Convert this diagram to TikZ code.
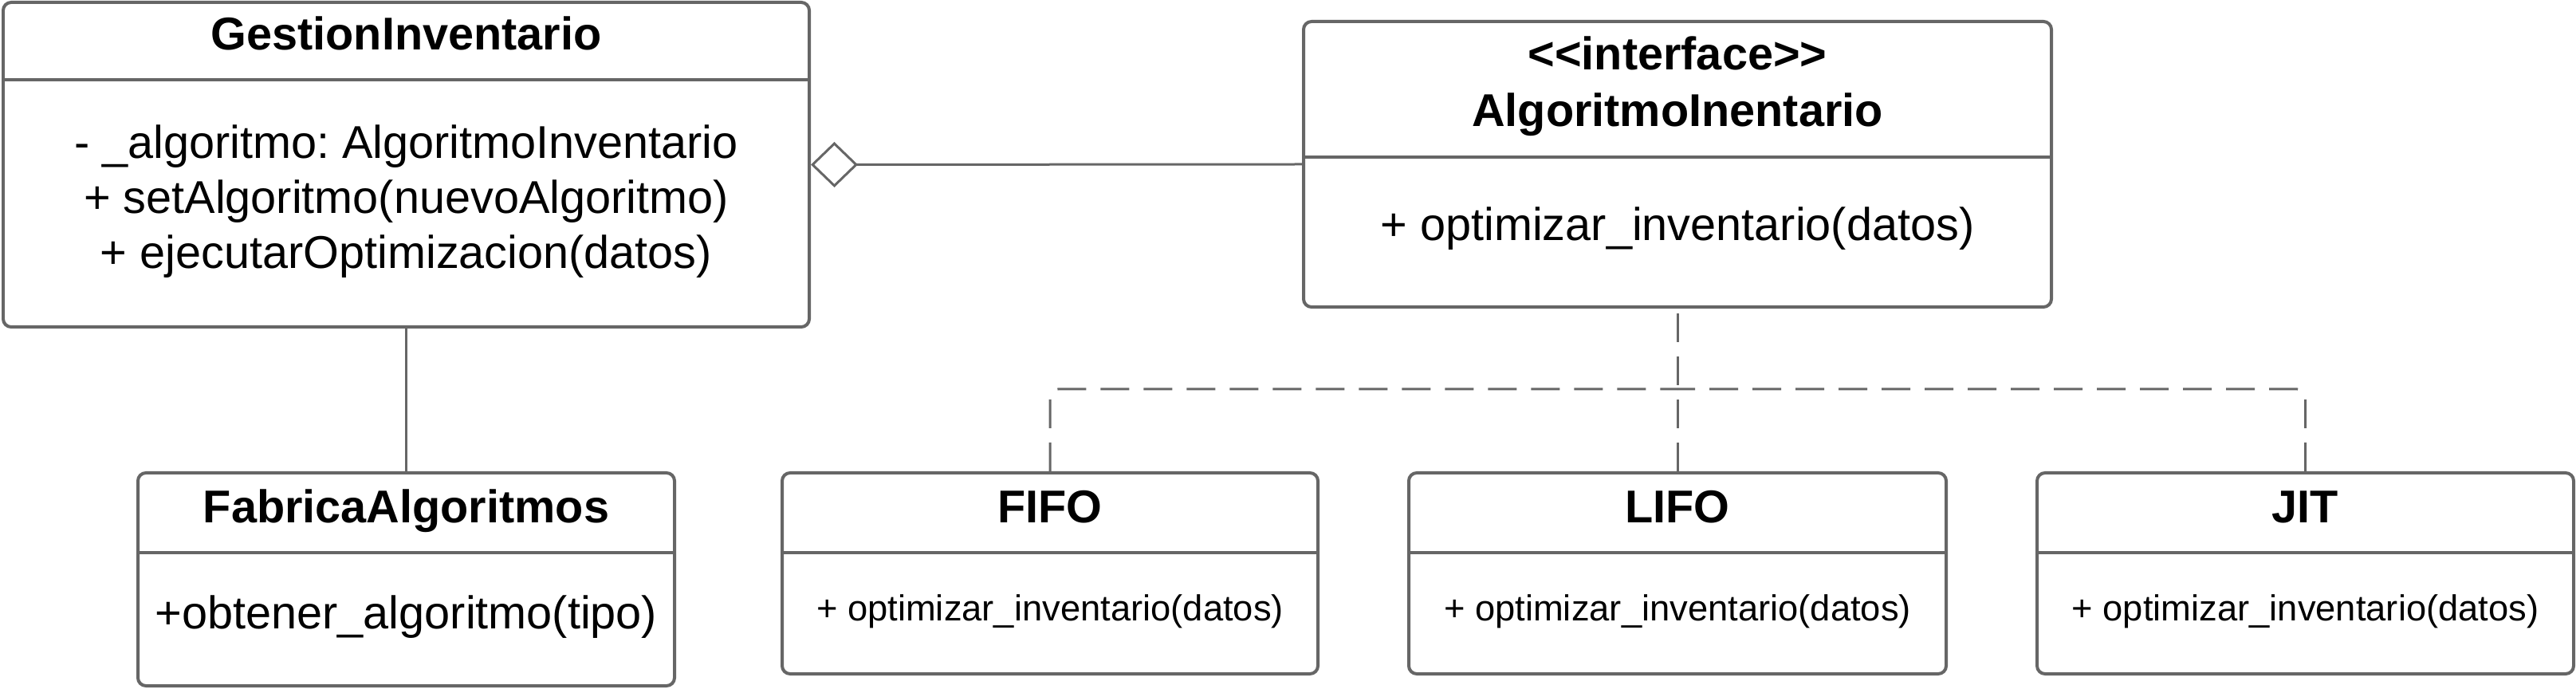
\documentclass[tikz,border=0pt]{standalone}
\usepackage{fontspec}
\setmainfont{Liberation Sans}
\usetikzlibrary{arrows.meta}
\definecolor{borde}{HTML}{666666}
\frenchspacing

\begin{document}
\begin{tikzpicture}[auto,
    clase/.style ={rectangle, draw=borde, line width=0.04cm, rounded corners=0.1cm, fill=white},
    separador/.style ={draw=borde, line width=0.04cm},
    titulo/.style ={anchor=base, font=\fontsize{16.4}{19.7}\selectfont\bfseries},
    miembro/.style ={anchor=base, font=\fontsize{16.4}{19.7}\selectfont},
    metodo/.style ={anchor=base, font=\fontsize{12.9}{15.5}\selectfont},
    asociacion/.style ={draw=borde, line width=0.03cm},
    realiza/.style ={draw=borde, line width=0.03cm, dash pattern=on 0.36cm off 0.18cm, rounded corners=0.1cm},
    agregacion/.style ={draw=borde, line width=0.03cm, -{Diamond[open, length=0.59cm, width=0.57cm]}}]
   \useasboundingbox (0,0) rectangle (32.31,-8.64);

   % clases
   \node[clase, minimum width=10.11cm, minimum height=4.07cm] (GI) at (5.095,-2.065) {};
   \node[clase, minimum width=9.38cm, minimum height=3.58cm] (AI) at (21.04,-2.06) {};
   \node[clase, minimum width=6.73cm, minimum height=2.67cm] (FA) at (5.095,-7.265) {};
   \node[clase, minimum width=6.72cm, minimum height=2.52cm] (FIFO) at (13.17,-7.19) {};
   \node[clase, minimum width=6.74cm, minimum height=2.52cm] (LIFO) at (21.04,-7.19) {};
   \node[clase, minimum width=6.73cm, minimum height=2.52cm] (JIT) at (28.915,-7.19) {};

   \draw[separador] (GI.west |- 0,-1.00) -- (GI.east |- 0,-1.00);
   \draw[separador] (AI.west |- 0,-1.97) -- (AI.east |- 0,-1.97);
   \draw[separador] (FA.west |- 0,-6.93) -- (FA.east |- 0,-6.93);
   \draw[separador] (FIFO.west |- 0,-6.93) -- (FIFO.east |- 0,-6.93);
   \draw[separador] (LIFO.west |- 0,-6.93) -- (LIFO.east |- 0,-6.93);
   \draw[separador] (JIT.west |- 0,-6.93) -- (JIT.east |- 0,-6.93);

   % textos
   \node[titulo] (GIt) at (5.095,-0.63) {GestionInventario};
   \node[miembro] (GIa) at (5.095,-1.99) {- \_algoritmo: AlgoritmoInventario};
   \node[miembro] (GIb) at (5.095,-2.68) {+ setAlgoritmo(nuevoAlgoritmo)};
   \node[miembro] (GIc) at (5.095,-3.37) {+ ejecutarOptimizacion(datos)};

   \node[titulo] (AIs) at (21.04,-0.88) {<\kern0pt<interface>\kern0pt>};
   \node[titulo] (AIt) at (21.04,-1.59) {AlgoritmoInentario};
   \node[miembro] (AIm) at (21.04,-3.02) {+ optimizar\_inventario(datos)};

   \node[titulo] (FAt) at (5.095,-6.55) {FabricaAlgoritmos};
   \node[miembro] (FAm) at (5.095,-7.88) {+obtener\_algoritmo(tipo)};

   \node[titulo] (FIFOt) at (13.17,-6.55) {FIFO};
   \node[metodo] (FIFOm) at (13.17,-7.78) {+ optimizar\_inventario(datos)};
   \node[titulo] (LIFOt) at (21.04,-6.55) {LIFO};
   \node[metodo] (LIFOm) at (21.04,-7.78) {+ optimizar\_inventario(datos)};
   \node[titulo] (JITt) at (28.915,-6.55) {JIT};
   \node[metodo] (JITm) at (28.915,-7.78) {+ optimizar\_inventario(datos)};

   % relaciones
   \draw[agregacion] (AI.west) to (GI.east);
   \draw[asociacion] (GI.south) to (FA.north);

   \coordinate (bus) at (21.04,-4.88);
   \draw[realiza] (LIFO.north) -- (AI.south);
   \draw[realiza] (FIFO.north) |- (bus);
   \draw[realiza] (JIT.north) |- (bus);
\end{tikzpicture}
\end{document}
